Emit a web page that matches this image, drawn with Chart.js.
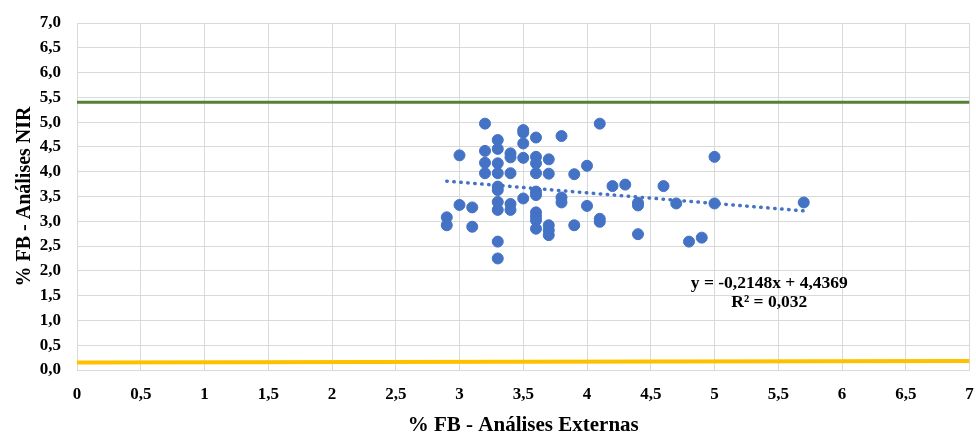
<!DOCTYPE html>
<html>
<head>
<meta charset="utf-8">
<script src="https://cdn.jsdelivr.net/npm/chart.js@4"></script>
<style>
  html, body { margin: 0; padding: 0; background: #fff; }
  #wrap { width: 976px; height: 432px; position: relative; }
</style>
</head>
<body>
<div id="wrap"><canvas id="fbChart"></canvas></div>
<script>
// % FB externas (x) vs % FB NIR (y)
const fbExternas = [
  2.9, 2.9, 3.0, 3.0, 3.1, 3.1,
  3.2, 3.2, 3.2, 3.2,
  3.3, 3.3, 3.3, 3.3, 3.3, 3.3, 3.3, 3.3, 3.3, 3.3,
  3.4, 3.4, 3.4, 3.4, 3.4,
  3.5, 3.5, 3.5, 3.5, 3.5,
  3.6, 3.6, 3.6, 3.6, 3.6, 3.6, 3.6, 3.6, 3.6, 3.6,
  3.7, 3.7, 3.7, 3.7, 3.7,
  3.8, 3.8, 3.8,
  3.9, 3.9, 4.0, 4.0,
  4.1, 4.1, 4.1,
  4.2, 4.3, 4.4, 4.4, 4.4,
  4.6, 4.7, 4.8, 4.9, 5.0, 5.0, 5.7
];
const fbNir = [
  3.08, 2.92, 4.33, 3.33, 3.28, 2.89,
  4.97, 4.42, 4.18, 3.97,
  4.64, 4.46, 4.17, 3.97, 3.70, 3.63, 3.39, 3.23, 2.59, 2.25,
  4.37, 4.29, 3.97, 3.35, 3.23,
  4.84, 4.79, 4.57, 4.28, 3.46,
  4.69, 4.30, 4.17, 3.97, 3.60, 3.53, 3.18, 3.10, 3.02, 2.85,
  4.25, 3.96, 2.92, 2.82, 2.72,
  4.72, 3.48, 3.38,
  3.95, 2.92, 4.12, 3.31,
  4.97, 3.05, 2.99,
  3.71, 3.74, 3.37, 3.32, 2.74,
  3.71, 3.36, 2.59, 2.67, 4.30, 3.36, 3.38
];

// linha de tendência
const trendX = [2.9, 5.7];
const trendY = [3.81, 3.21];

// limites
const limX = [0, 7];
const limSup = [5.4, 5.4];
const limInf = [0.15, 0.18];

const eqLines = ["y = -0,2148x + 4,4369", "R² = 0,032"];

const toPts = (xs, ys) => xs.map((x, i) => ({ x: x, y: ys[i] }));

const serif = "'Liberation Serif', 'Times New Roman', serif";

const eqLabel = {
  id: "eqLabel",
  afterDatasetsDraw(chart) {
    const { ctx, scales } = chart;
    const cx = scales.x.getPixelForValue(5.43);
    ctx.save();
    ctx.font = "bold 17.5px " + serif;
    ctx.fillStyle = "#000";
    ctx.textAlign = "center";
    ctx.textBaseline = "middle";
    ctx.fillText(eqLines[0], cx, scales.y.getPixelForValue(1.75));
    ctx.fillText(eqLines[1], cx, scales.y.getPixelForValue(1.37));
    ctx.restore();
  }
};

const config = {
  type: "scatter",
  data: {
    datasets: [
      {
        label: "Limite superior",
        type: "line",
        data: toPts(limX, limSup),
        borderColor: "#548235",
        borderWidth: 3,
        pointRadius: 0,
        order: 3,
      },
      {
        label: "Limite inferior",
        type: "line",
        data: toPts(limX, limInf),
        borderColor: "#FFC000",
        borderWidth: 4,
        pointRadius: 0,
        order: 3,
      },
      {
        label: "Tendência",
        type: "line",
        data: toPts(trendX, trendY),
        borderColor: "#4472C4",
        borderWidth: 3.5,
        borderDash: [0.5, 6.5],
        borderCapStyle: "round",
        pointRadius: 0,
        order: 1,
      },
      {
        label: "% FB",
        data: toPts(fbExternas, fbNir),
        backgroundColor: "#4472C4",
        borderColor: "#4472C4",
        pointRadius: 5.5,
        order: 2,
      },
    ],
  },
  options: {
    responsive: true,
    maintainAspectRatio: false,
    animation: false,
    layout: { padding: 0 },
    scales: {
      x: {
        type: "linear",
        min: 0,
        max: 7,
        ticks: {
          stepSize: 0.5,
          color: "#000",
          font: { family: serif, size: 17, weight: "bold" },
          padding: 14,
          maxRotation: 0,
          callback: (v) => String(v).replace(".", ","),
        },
        grid: { color: "#d9d9d9", drawTicks: false },
        border: { color: "#d9d9d9" },
        title: {
          display: true,
          text: "% FB - Análises Externas",
          color: "#000",
          font: { family: serif, size: 21, weight: "bold" },
          padding: { top: 0, bottom: -6 },
        },
        afterFit: (s) => {
          s.height = 62;
          s.paddingLeft = 0;
          s.paddingRight = 6;
        },
      },
      y: {
        min: 0,
        max: 7,
        ticks: {
          stepSize: 0.5,
          color: "#000",
          font: { family: serif, size: 17, weight: "bold" },
          padding: 16,
          callback: (v) => v.toFixed(1).replace(".", ","),
        },
        grid: { color: "#d9d9d9", drawTicks: false },
        border: { color: "#d9d9d9" },
        title: {
          display: true,
          text: "% FB - Análises NIR",
          color: "#000",
          font: { family: serif, size: 20, weight: "bold" },
          padding: { top: 13, bottom: 0 },
        },
        afterFit: (s) => {
          s.width = 77;
          s.paddingTop = 23;
          s.paddingBottom = 0;
        },
      },
    },
    plugins: {
      legend: { display: false },
      tooltip: { enabled: false },
    },
  },
  plugins: [eqLabel],
};

new Chart(document.getElementById("fbChart"), config);
</script>
</body>
</html>
